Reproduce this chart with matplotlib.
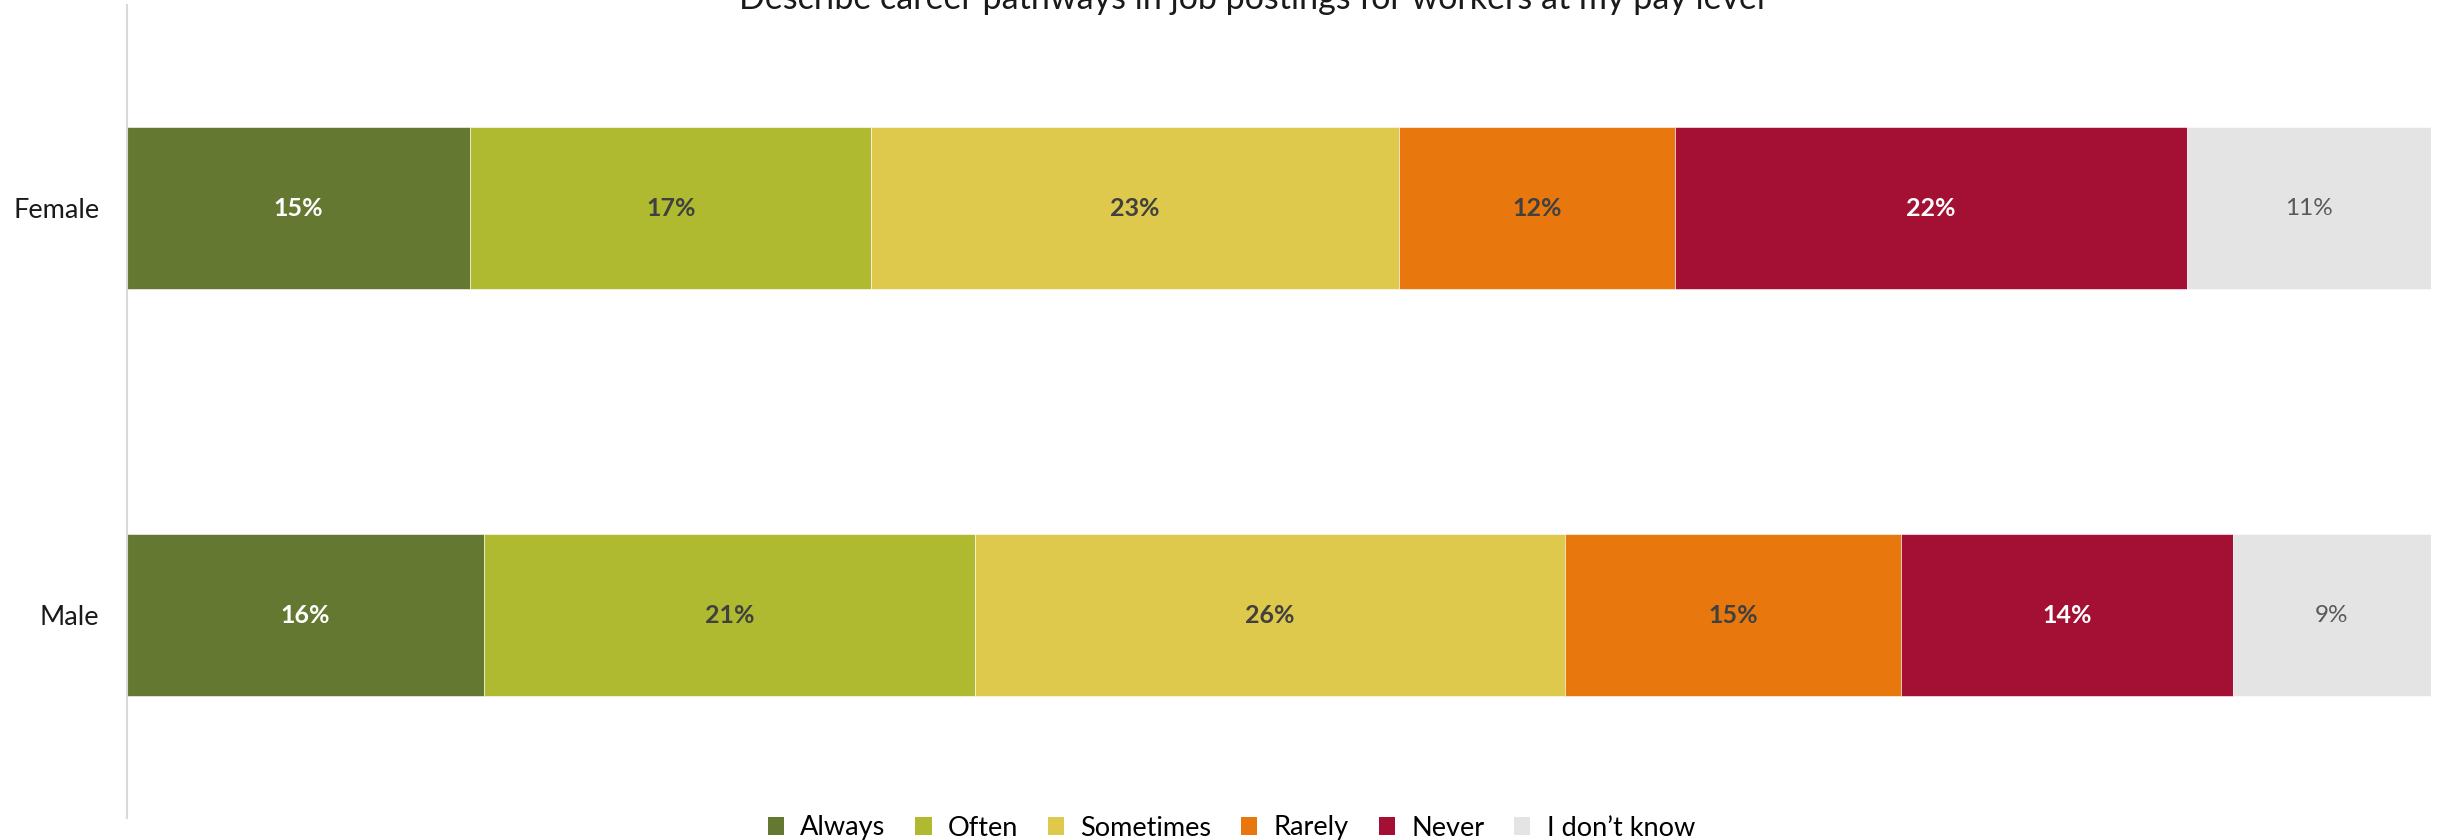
import numpy as np
import matplotlib
matplotlib.use("Agg")
from matplotlib import pyplot as plt
from matplotlib.patches import Patch

plt.rcParams['font.family'] = ['Lato', 'DejaVu Sans']

title = "Describe career pathways in job postings for workers at my pay level"
groups = ['Male', 'Female']
answers = ['Always', 'Often', 'Sometimes', 'Rarely', 'Never', 'I don\u2019t know']
colors = ['#657831', '#B0BA30', '#DFC94C', '#E8770E', '#A31034', '#E4E4E4']
label_colors = ['white', '#404040', '#404040', '#404040', 'white', '#595959']
label_weights = ['bold', 'bold', 'bold', 'bold', 'bold', 'normal']

# percentages (Male, Female)
always = [15.5, 14.9]
often = [21.3, 17.4]
sometimes = [25.6, 22.9]
rarely = [14.6, 12.0]
never = [14.4, 22.2]
dont_know = [8.6, 10.6]

series = [always, often, sometimes, rarely, never, dont_know]

fig = plt.figure(figsize=(24.43, 8.4), dpi=100)
ax = fig.add_axes([0.052, 0.0256, 0.9431, 0.969])

y = np.arange(len(groups))
left = np.zeros(len(groups))
for vals, col, tcol, tw in zip(series, colors, label_colors, label_weights):
   vals = np.array(vals)
   bars = ax.barh(y, vals, left=left, height=0.40, color=col,
                  edgecolor='white', linewidth=0.4)
   for b, v in zip(bars, vals):
      fs = 18 if tw == 'bold' else 17.5
      ax.text(b.get_x() + b.get_width() / 2, b.get_y() + b.get_height() / 2,
              '%.0f%%' % v, ha='center', va='center', color=tcol,
              fontsize=fs, fontweight=tw)
   left += vals

ax.set_xlim(0, 100)
ax.set_ylim(-0.5, 1.5)
ax.set_yticks(y)
ax.set_yticklabels(groups, fontsize=19.5, color='#1a1a1a')
ax.tick_params(axis='y', length=0, pad=20)
ax.set_xticks([])
for s in ['top', 'right', 'bottom']:
   ax.spines[s].set_visible(False)
ax.spines['left'].set_color('#D9D9D9')
ax.spines['left'].set_linewidth(1.5)

fig.text(0.5125, 1 - 9 / 840, title, ha='center', va='baseline',
         fontsize=24.5, color='#1a1a1a')

handles = [Patch(facecolor=c, label=a) for c, a in zip(colors, answers)]
fig.legend(handles=handles, loc='center', bbox_to_anchor=(0.504, 1 - 828 / 840),
           ncol=6, frameon=False, fontsize=19.5, handlelength=0.6,
           handleheight=0.6, handletextpad=0.6, columnspacing=1.1)

fig.savefig('out.png', dpi=100)
